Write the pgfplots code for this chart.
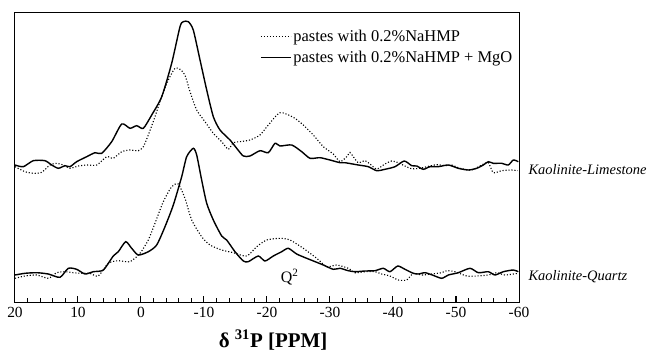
\documentclass[border=0pt]{standalone}
\usepackage{fontspec}
\setmainfont{Liberation Serif}
\usepackage{pgfplots}
\pgfplotsset{compat=1.18}
\begin{document}
\begin{tikzpicture}[x=1bp,y=1bp]
\begin{axis}[
  scale only axis, width=504bp, height=289bp,
  xmin=-60, xmax=20, x dir=reverse,
  ymin=0, ymax=289,
  ytick=\empty,
  xtick={20,10,0,-10,-20,-30,-40,-50,-60},
  xticklabels={20,10,0,-10,-20,-30,-40,-50,-60},
  minor x tick num=4,
  xtick pos=bottom,
  tick align=inside,
  major tick length=6bp, minor tick length=4bp,
  every tick/.style={black, line width=1bp},
  axis line style={line width=1bp},
  tick label style={font=\fontsize{15.5}{15.5}\selectfont},
  xticklabel style={yshift=-2bp},
  clip=false,
  legend style={draw=none, fill=none, at={(rel axis cs:0.997,0.955)}, anchor=north east,
    font=\fontsize{16.5}{18}\selectfont, row sep=4bp,
    legend cell align=left},
  legend image code/.code={\draw[#1] (0bp,0bp) -- (30bp,0bp);},
]
% top dotted: pastes with 0.2% NaHMP (Kaolinite-Limestone)
\addplot[black, line width=1.1bp, dash pattern=on 1.1bp off 1.9bp, smooth, tension=0.4] coordinates {
(20.0,135.3)(18.41,130.3)(17.10,128.7)(15.76,129.7)(14.44,137)(13.38,138.7)(12.33,137)(11.27,133.7)
(9.95,136)(8.62,137)(7.03,137)(5.44,145.3)(4.40,143.7)(3.06,150.3)(1.75,152)(0.43,151.3)(-0.37,155.3)
(-1.16,167)(-2.22,185.3)(-3.29,205.3)(-4.33,222)(-5.40,233.7)(-6.19,232.7)(-6.98,227)(-7.78,210.3)
(-8.84,192)(-10.16,180.3)(-11.48,168.7)(-12.81,160.3)(-13.86,152.7)(-14.65,159.3)(-15.71,160.3)
(-17.30,162)(-18.89,167)(-20.21,177)(-22.06,189.3)(-24.17,184.7)(-25.76,177)(-27.35,167)(-28.94,155.3)
(-30.52,148)(-31.59,140.3)(-32.65,145.3)(-33.17,149.5)(-33.70,145.3)(-34.49,139.3)(-35.56,141.3)
(-36.35,138)(-37.41,133)(-38.73,138)(-39.79,141)(-40.84,139.3)(-41.90,136)(-42.97,133.3)(-44.29,133.7)
(-45.35,135.3)(-46.94,137.3)(-48.25,136.3)(-49.32,137)(-50.63,133.7)(-52.49,132)(-54.08,137)
(-55.13,139.3)(-55.92,129.3)(-57.25,131.3)(-58.84,132)(-59.79,131.3)
};
\addlegendentry{pastes with 0.2\%NaHMP}
% top solid: pastes with 0.2% NaHMP + MgO
\addplot[black, line width=1.4bp, smooth, tension=0.4] coordinates {
(20.0,137)(18.68,135.3)(17.10,141.3)(15.24,141.3)(14.17,137)(13.13,133.7)(12.06,136.3)(11.27,135.3)
(10.21,140.3)(8.62,145.3)(7.30,149.3)(6.24,148.7)(4.65,160.3)(3.06,178)(1.75,173.7)(0.68,176.3)
(-0.37,173.7)(-1.70,187)(-3.29,205.3)(-4.87,238.7)(-6.19,275.3)(-6.71,280.3)(-7.51,280.3)(-8.30,272)
(-9.37,242)(-10.43,212)(-11.48,185.3)(-12.54,172)(-14.13,162)(-15.19,153.7)(-16.24,146)(-17.30,146)
(-18.89,151.3)(-20.21,149.3)(-21.27,158.7)(-22.06,156)(-23.92,157)(-25.51,150.3)(-26.83,143.7)
(-28.41,144.3)(-30.0,142)(-31.59,139.3)(-32.38,139.3)(-34.49,137)(-36.08,135.3)(-37.41,131.3)
(-38.73,132.7)(-40.32,135.3)(-41.79,141)(-42.97,136.3)(-43.76,136)(-44.81,132.7)(-45.87,135.3)
(-47.19,135.3)(-48.78,137)(-50.37,133.7)(-51.95,132)(-53.29,133.7)(-54.33,137)(-55.13,140.3)
(-55.92,138.7)(-57.25,138.7)(-58.30,137)(-59.10,142)(-59.89,140.3)
};
\addlegendentry{pastes with 0.2\%NaHMP + MgO}
% bottom dotted (Kaolinite-Quartz)
\addplot[black, line width=1.1bp, dash pattern=on 1.1bp off 1.9bp, smooth, tension=0.4, forget plot] coordinates {
(20.0,23.7)(18.41,26)(16.56,27)(14.71,23.7)(13.38,29.3)(12.06,30.3)(10.75,29.3)(9.41,28.7)(8.10,28.7)
(6.78,26)(5.19,38.7)(3.60,41.3)(1.75,40.3)(0.16,48.7)(-1.16,62)(-2.22,78.7)(-3.54,100.3)(-4.87,115.3)
(-5.92,118)(-6.98,103.7)(-8.05,82)(-9.63,65.3)(-10.95,57)(-12.81,52)(-14.65,49.3)(-16.78,46)
(-18.37,55.3)(-19.95,62)(-22.06,63.7)(-23.65,62)(-25.76,53.7)(-27.89,43.7)(-29.48,35.3)(-31.06,37)
(-32.90,33.7)(-33.97,29.3)(-35.56,30.3)(-37.14,30.3)(-38.21,28)(-39.52,26)(-40.84,22)(-42.17,22)
(-43.22,28.7)(-44.56,27)(-46.14,28)(-47.73,29.3)(-48.52,31.3)(-49.84,30.3)(-51.70,26)(-53.29,26)
(-55.13,27)(-56.46,29.3)(-57.78,27)(-59.89,28.7)
};
% bottom solid
\addplot[black, line width=1.4bp, smooth, tension=0.4, forget plot] coordinates {
(20.0,27)(18.41,28.7)(16.56,29.3)(14.71,28)(12.86,24.7)(11.54,33.7)(10.21,32.7)(8.89,28)(7.57,30.3)
(5.98,32)(4.40,46)(3.60,50.3)(2.43,60.3)(1.48,53.7)(0.43,47)(-1.16,50.3)(-2.49,57)(-3.81,75.3)
(-5.13,97)(-6.46,125.3)(-7.25,145.3)(-8.30,153.7)(-8.84,147)(-9.63,122)(-10.43,98.7)(-11.48,82)
(-12.81,66)(-13.60,62)(-14.92,50.3)(-16.24,41)(-17.03,40.3)(-18.62,46)(-19.68,41)(-21.0,46)
(-22.33,50.3)(-23.38,53.7)(-24.71,48)(-26.30,43.7)(-27.89,39.7)(-28.94,37)(-30.52,32.7)(-31.59,33.7)
(-32.90,31.3)(-33.97,30.3)(-35.56,31)(-37.14,31.3)(-38.46,33.7)(-39.52,30.3)(-40.75,36)(-41.90,32.7)
(-43.22,28.7)(-44.02,28)(-45.08,29.3)(-46.24,27)(-47.73,23.7)(-48.78,27)(-50.37,29.3)(-52.22,33.7)
(-53.54,29.3)(-55.13,30.3)(-56.19,27)(-57.51,30.3)(-59.10,32)(-59.89,30.3)
};
\node[font=\fontsize{14.5}{14.5}\selectfont\itshape, anchor=west] at (rel axis cs:1,0.457) [xshift=6bp] {Kaolinite-Limestone};
\node[font=\fontsize{14.5}{14.5}\selectfont\itshape, anchor=west] at (rel axis cs:1,0.087) [xshift=6bp] {Kaolinite-Quartz};
\node[font=\fontsize{16}{16}\selectfont] at (axis cs:-23.6,25) {Q$^{\mathrm{2}}$};
\node[font=\fontsize{21}{21}\selectfont\bfseries] at (rel axis cs:0.512,0) [yshift=-38bp] {δ \textsuperscript{31}P [PPM]};
\end{axis}
\pgfresetboundingbox
\path ([shift={(-15bp,-50bp)}]current axis.south west) rectangle ([shift={(130bp,13bp)}]current axis.north east);
\end{tikzpicture}
\end{document}
